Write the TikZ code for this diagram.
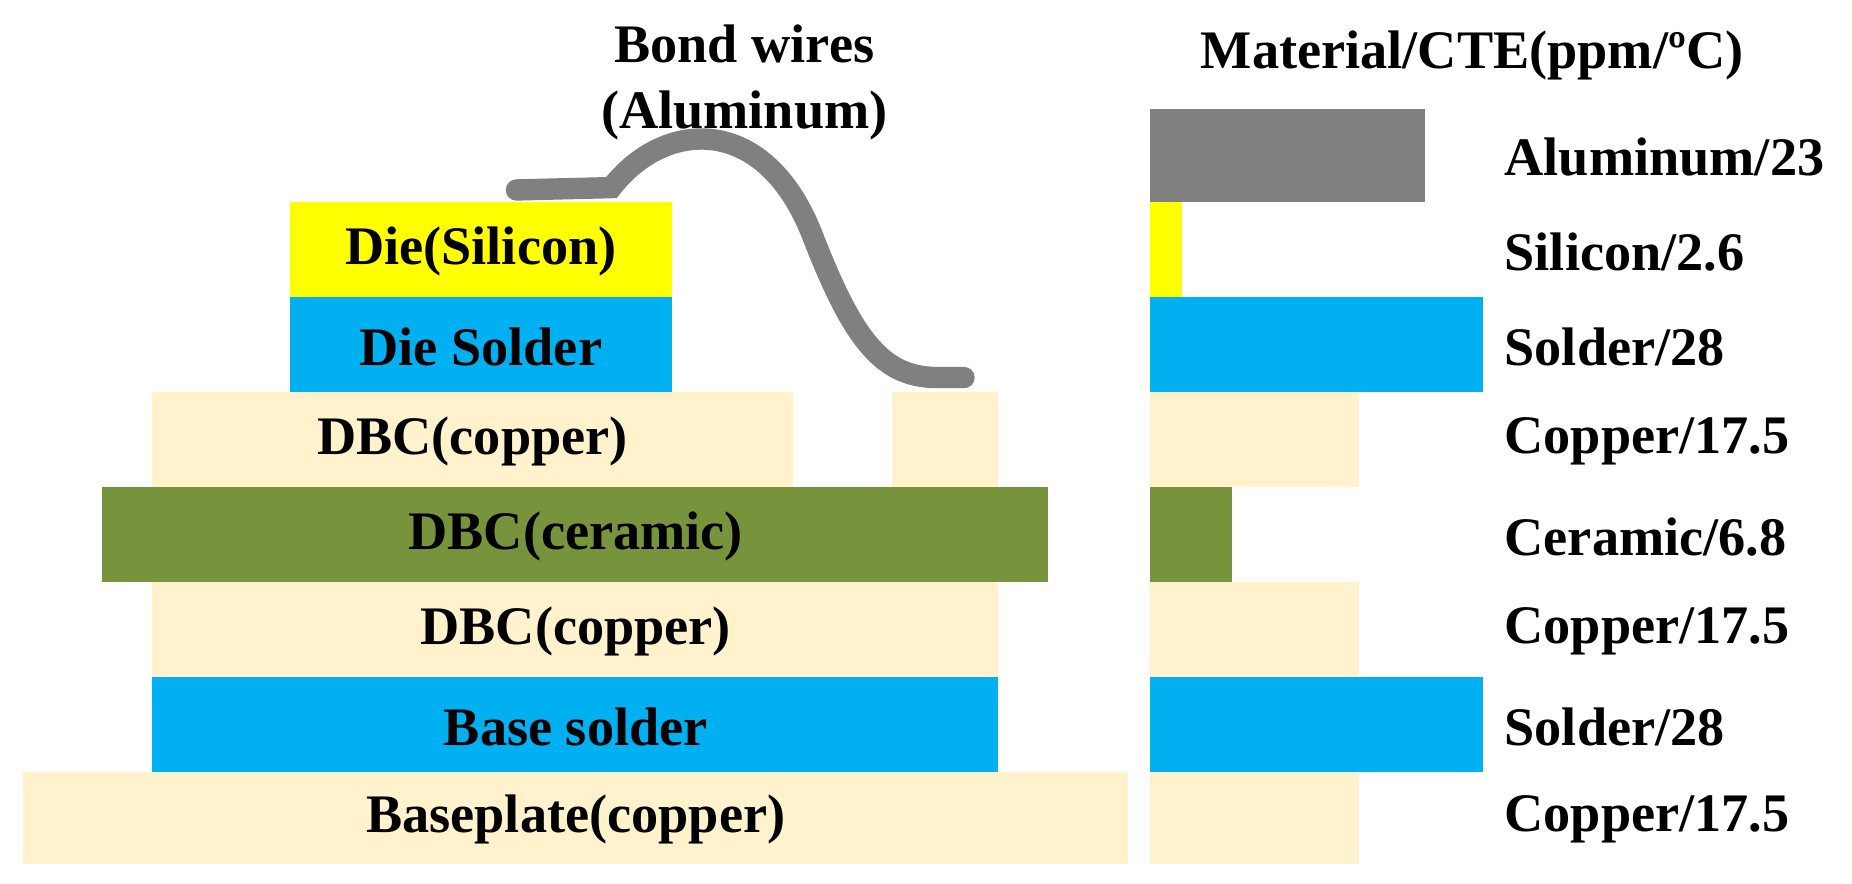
\documentclass[tikz,border=0pt]{standalone}
\usepackage{fontspec}
\setmainfont{Liberation Serif}
\definecolor{cyel}{HTML}{FFFF00}
\definecolor{cblu}{HTML}{00B0F0}
\definecolor{ccre}{HTML}{FFF2CC}
\definecolor{cgrn}{HTML}{77933C}
\definecolor{cgry}{HTML}{808080}
\begin{document}
\begin{tikzpicture}[x=0.01cm,y=-0.01cm,
  lay/.style={draw=none,inner sep=0},
  lbl/.style={font=\fontsize{13}{15}\selectfont\bfseries},
  rl/.style={lbl,anchor=west}]
\useasboundingbox (0,0) rectangle (1560,744);
% stack
\fill[cyel] (244,170) rectangle (566,250);
\fill[cblu] (244,250) rectangle (566,330);
\fill[ccre] (128,330) rectangle (668,410);
\fill[ccre] (751,330) rectangle (841,410);
\fill[cgrn] (86,410) rectangle (883,490);
\fill[ccre] (128,490) rectangle (841,570);
\fill[cblu] (128,570) rectangle (841,650);
\fill[ccre] (19,650) rectangle (950,728);
\node[lbl] (die) at (405,212) {Die(Silicon)};
\node[lbl] (ds) at (405,292) {Die Solder};
\node[lbl] (dc1) at (398,372) {DBC(copper)};
\node[lbl] (cer) at (485,452) {DBC(ceramic)};
\node[lbl] (dc2) at (485,532) {DBC(copper)};
\node[lbl] (bs) at (485,612) {Base solder};
\node[lbl] (bp) at (485,690) {Baseplate(copper)};
% wire
\draw[cgry,line width=0.18cm,line cap=round] (435,160) -- (515,158) .. controls (560,100) and (645,95) .. (685,200) .. controls (720,290) and (745,318) .. (790,318) -- (812,318);
\node[lbl] (bw1) at (627,37) {Bond wires};
\node[lbl] (bw2) at (627,97) {(Aluminum)};
% legend
\node[lbl] (title) at (1240,47) {Material/CTE(ppm/ºC)};
\fill[cgry] (969,92) rectangle (1200,170);
\fill[cyel] (969,170) rectangle (996,250);
\fill[cblu] (969,250) rectangle (1249,330);
\fill[ccre] (969,330) rectangle (1145,410);
\fill[cgrn] (969,410) rectangle (1038,490);
\fill[ccre] (969,490) rectangle (1145,570);
\fill[cblu] (969,570) rectangle (1249,650);
\fill[ccre] (969,650) rectangle (1145,728);
\node[rl] (l1) at (1255,132) {Aluminum/23};
\node[rl] (l2) at (1255,212) {Silicon/2.6};
\node[rl] (l3) at (1255,292) {Solder/28};
\node[rl] (l4) at (1255,372) {Copper/17.5};
\node[rl] (l5) at (1255,452) {Ceramic/6.8};
\node[rl] (l6) at (1255,532) {Copper/17.5};
\node[rl] (l7) at (1255,612) {Solder/28};
\node[rl] (l8) at (1255,690) {Copper/17.5};
\end{tikzpicture}
\end{document}
